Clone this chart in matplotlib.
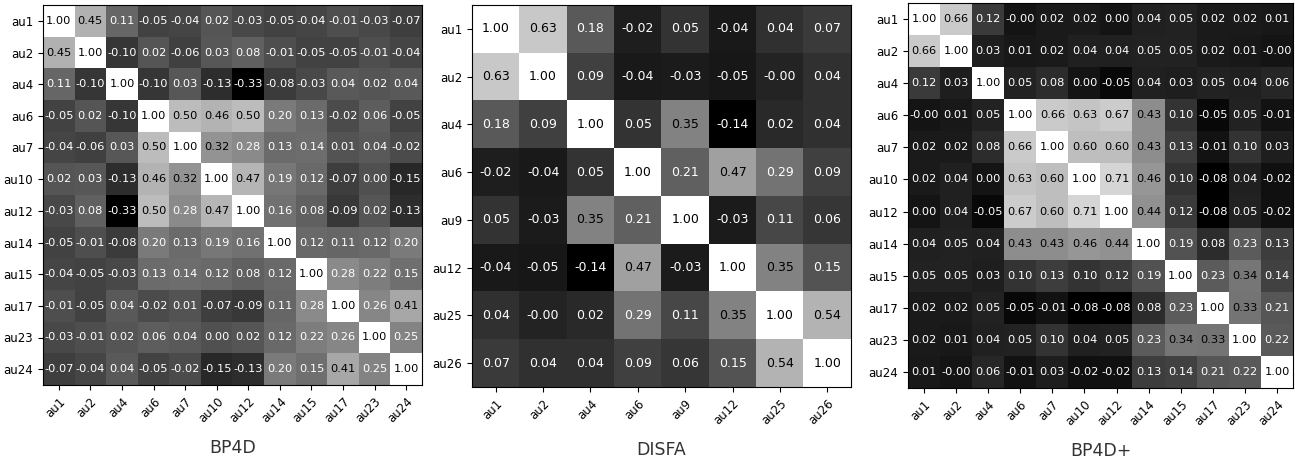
import numpy as np
import matplotlib
matplotlib.use("Agg")
import matplotlib.pyplot as plt

bp4d_aus = ["au1", "au2", "au4", "au6", "au7", "au10", "au12", "au14", "au15", "au17", "au23", "au24"]
bp4d_corr = [
    [1.00, 0.45, 0.11, -0.05, -0.04, 0.02, -0.03, -0.05, -0.04, -0.01, -0.03, -0.07],
    [0.45, 1.00, -0.10, 0.02, -0.06, 0.03, 0.08, -0.01, -0.05, -0.05, -0.01, -0.04],
    [0.11, -0.10, 1.00, -0.10, 0.03, -0.13, -0.33, -0.08, -0.03, 0.04, 0.02, 0.04],
    [-0.05, 0.02, -0.10, 1.00, 0.50, 0.46, 0.50, 0.20, 0.13, -0.02, 0.06, -0.05],
    [-0.04, -0.06, 0.03, 0.50, 1.00, 0.32, 0.28, 0.13, 0.14, 0.01, 0.04, -0.02],
    [0.02, 0.03, -0.13, 0.46, 0.32, 1.00, 0.47, 0.19, 0.12, -0.07, 0.00, -0.15],
    [-0.03, 0.08, -0.33, 0.50, 0.28, 0.47, 1.00, 0.16, 0.08, -0.09, 0.02, -0.13],
    [-0.05, -0.01, -0.08, 0.20, 0.13, 0.19, 0.16, 1.00, 0.12, 0.11, 0.12, 0.20],
    [-0.04, -0.05, -0.03, 0.13, 0.14, 0.12, 0.08, 0.12, 1.00, 0.28, 0.22, 0.15],
    [-0.01, -0.05, 0.04, -0.02, 0.01, -0.07, -0.09, 0.11, 0.28, 1.00, 0.26, 0.41],
    [-0.03, -0.01, 0.02, 0.06, 0.04, 0.00, 0.02, 0.12, 0.22, 0.26, 1.00, 0.25],
    [-0.07, -0.04, 0.04, -0.05, -0.02, -0.15, -0.13, 0.20, 0.15, 0.41, 0.25, 1.00],
]

disfa_aus = ["au1", "au2", "au4", "au6", "au9", "au12", "au25", "au26"]
disfa_corr = [
    [1.00, 0.63, 0.18, -0.02, 0.05, -0.04, 0.04, 0.07],
    [0.63, 1.00, 0.09, -0.04, -0.03, -0.05, -0.001, 0.04],
    [0.18, 0.09, 1.00, 0.05, 0.35, -0.14, 0.02, 0.04],
    [-0.02, -0.04, 0.05, 1.00, 0.21, 0.47, 0.29, 0.09],
    [0.05, -0.03, 0.35, 0.21, 1.00, -0.03, 0.11, 0.06],
    [-0.04, -0.05, -0.14, 0.47, -0.03, 1.00, 0.35, 0.15],
    [0.04, -0.001, 0.02, 0.29, 0.11, 0.35, 1.00, 0.54],
    [0.07, 0.04, 0.04, 0.09, 0.06, 0.15, 0.54, 1.00],
]

bp4dp_aus = ["au1", "au2", "au4", "au6", "au7", "au10", "au12", "au14", "au15", "au17", "au23", "au24"]
bp4dp_corr = [
    [1.00, 0.66, 0.12, -0.001, 0.02, 0.02, 0.00, 0.04, 0.05, 0.02, 0.02, 0.01],
    [0.66, 1.00, 0.03, 0.01, 0.02, 0.04, 0.04, 0.05, 0.05, 0.02, 0.01, -0.001],
    [0.12, 0.03, 1.00, 0.05, 0.08, 0.00, -0.05, 0.04, 0.03, 0.05, 0.04, 0.06],
    [-0.001, 0.01, 0.05, 1.00, 0.66, 0.63, 0.67, 0.43, 0.10, -0.05, 0.05, -0.01],
    [0.02, 0.02, 0.08, 0.66, 1.00, 0.60, 0.60, 0.43, 0.13, -0.01, 0.10, 0.03],
    [0.02, 0.04, 0.00, 0.63, 0.60, 1.00, 0.71, 0.46, 0.10, -0.08, 0.04, -0.02],
    [0.00, 0.04, -0.05, 0.67, 0.60, 0.71, 1.00, 0.44, 0.12, -0.08, 0.05, -0.02],
    [0.04, 0.05, 0.04, 0.43, 0.43, 0.46, 0.44, 1.00, 0.19, 0.08, 0.23, 0.13],
    [0.05, 0.05, 0.03, 0.10, 0.13, 0.10, 0.12, 0.19, 1.00, 0.23, 0.34, 0.14],
    [0.02, 0.02, 0.05, -0.05, -0.01, -0.08, -0.08, 0.08, 0.23, 1.00, 0.33, 0.21],
    [0.02, 0.01, 0.04, 0.05, 0.10, 0.04, 0.05, 0.23, 0.34, 0.33, 1.00, 0.22],
    [0.01, -0.001, 0.06, -0.01, 0.03, -0.02, -0.02, 0.13, 0.14, 0.21, 0.22, 1.00],
]

titles = ["BP4D", "DISFA", "BP4D+"]

W, H = 1295, 462
fig = plt.figure(figsize=(W / 100, H / 100), dpi=100)

# axes boxes in pixels: left, top, right, bottom
boxes = [(43, 5, 422, 385), (472, 5, 851, 387), (908, 3, 1293, 388)]
annot_fs = [8.2, 9.0, 8.2]

panels = [(bp4d_aus, bp4d_corr), (disfa_aus, disfa_corr), (bp4dp_aus, bp4dp_corr)]

for (labels, corr), box, title, afs in zip(panels, boxes, titles, annot_fs):
    l, t, r, b = box
    ax = fig.add_axes([l / W, (H - b) / H, (r - l) / W, (b - t) / H])
    m = np.array(corr)
    ax.imshow(m, cmap="Greys_r", vmin=m.min(), vmax=m.max(), aspect="auto",
              interpolation="nearest")
    n = len(labels)
    for i in range(n):
        for j in range(n):
            v = m[i, j]
            ax.text(j, i, f"{v:.2f}", ha="center", va="center", fontsize=afs,
                    color="black" if v > 0.3 else "white")
    ax.set_xticks(range(n))
    ax.set_yticks(range(n))
    ax.set_xticklabels(labels, rotation=45, ha="right", rotation_mode="anchor",
                       fontsize=8.5)
    ax.set_yticklabels(labels, fontsize=8.5)
    ax.set_xlabel(title, fontsize=12.5, labelpad=10, color="#333333")

fig.savefig("out.png", dpi=100)
